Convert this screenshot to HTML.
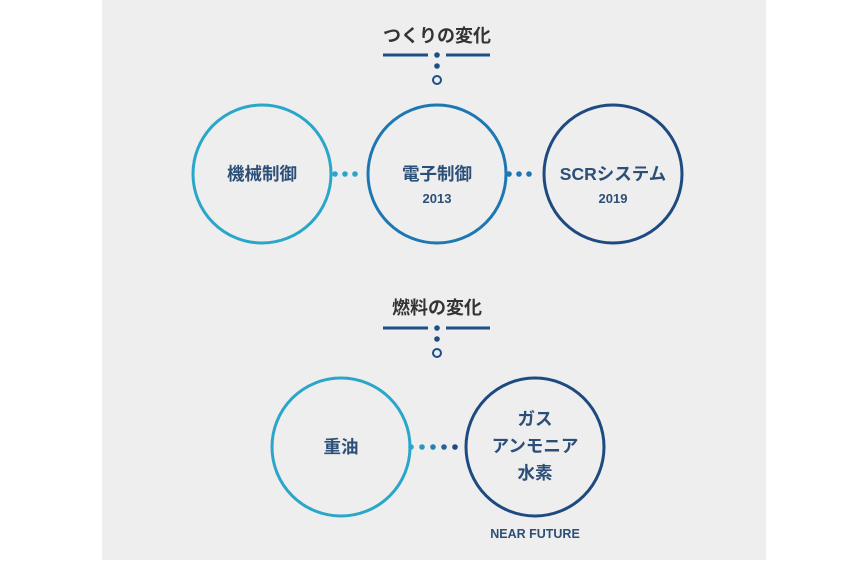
<!DOCTYPE html>
<html><head><meta charset="utf-8"><style>
html,body{margin:0;padding:0;background:#fff;}
body{width:860px;height:560px;overflow:hidden;}
svg text{font-family:"Liberation Sans","Noto Sans CJK JP",sans-serif;font-weight:bold;}
</style></head><body>
<svg width="860" height="560" viewBox="0 0 860 560">
<rect x="102" y="0" width="664" height="560" fill="#eeeeee"/>
<!-- top header -->
<text x="437" y="42" font-size="18" fill="#333" text-anchor="middle">つくりの変化</text>
<line x1="383" y1="55" x2="428" y2="55" stroke="#1e4e86" stroke-width="3"/>
<line x1="446" y1="55" x2="490" y2="55" stroke="#1e4e86" stroke-width="3"/>
<circle cx="437" cy="55" r="2.8" fill="#1e4e86"/>
<circle cx="437" cy="66" r="2.8" fill="#1e4e86"/>
<circle cx="437" cy="80" r="4" fill="none" stroke="#1e4e86" stroke-width="2"/>
<!-- top circles -->
<circle cx="262" cy="174" r="69" fill="none" stroke="#2aa6c9" stroke-width="3"/>
<circle cx="437" cy="174" r="69" fill="none" stroke="#1d77b2" stroke-width="3"/>
<circle cx="613" cy="174" r="69" fill="none" stroke="#1d4a80" stroke-width="3"/>
<g fill="#2aa6c9"><circle cx="335" cy="174" r="2.8"/><circle cx="345" cy="174" r="2.8"/><circle cx="355" cy="174" r="2.8"/></g>
<g fill="#1d77b2"><circle cx="509" cy="174" r="2.8"/><circle cx="519" cy="174" r="2.8"/><circle cx="529" cy="174" r="2.8"/></g>
<text x="262" y="180" font-size="17.5" fill="#2c4f78" text-anchor="middle">機械制御</text>
<text x="437" y="180" font-size="17.5" fill="#2c4f78" text-anchor="middle">電子制御</text>
<text x="437" y="203" font-size="13" fill="#2c4f78" text-anchor="middle">2013</text>
<text x="613" y="180" font-size="17.5" fill="#2c4f78" text-anchor="middle">SCRシステム</text>
<text x="613" y="203" font-size="13" fill="#2c4f78" text-anchor="middle">2019</text>
<!-- bottom header -->
<text x="437" y="314" font-size="18" fill="#333" text-anchor="middle">燃料の変化</text>
<line x1="383" y1="328" x2="428" y2="328" stroke="#1e4e86" stroke-width="3"/>
<line x1="446" y1="328" x2="490" y2="328" stroke="#1e4e86" stroke-width="3"/>
<circle cx="437" cy="328" r="2.8" fill="#1e4e86"/>
<circle cx="437" cy="339" r="2.8" fill="#1e4e86"/>
<circle cx="437" cy="353" r="4" fill="none" stroke="#1e4e86" stroke-width="2"/>
<!-- bottom circles -->
<circle cx="341" cy="447" r="69" fill="none" stroke="#2aa6c9" stroke-width="3"/>
<circle cx="535" cy="447" r="69" fill="none" stroke="#1d4a80" stroke-width="3"/>
<circle cx="411" cy="447" r="2.8" fill="#2aa6c9"/>
<circle cx="422" cy="447" r="2.8" fill="#2a97c2"/>
<circle cx="433" cy="447" r="2.8" fill="#2580b5"/>
<circle cx="444" cy="447" r="2.8" fill="#21649c"/>
<circle cx="455" cy="447" r="2.8" fill="#1d4a80"/>
<text x="341" y="453" font-size="17.5" fill="#2c4f78" text-anchor="middle">重油</text>
<text x="535" y="425" font-size="17.5" fill="#2c4f78" text-anchor="middle">ガス</text>
<text x="535" y="452" font-size="17.5" fill="#2c4f78" text-anchor="middle">アンモニア</text>
<text x="535" y="479" font-size="17.5" fill="#2c4f78" text-anchor="middle">水素</text>
<text x="535" y="538" font-size="12.5" fill="#2c4f78" text-anchor="middle">NEAR FUTURE</text>
</svg>
</body></html>
